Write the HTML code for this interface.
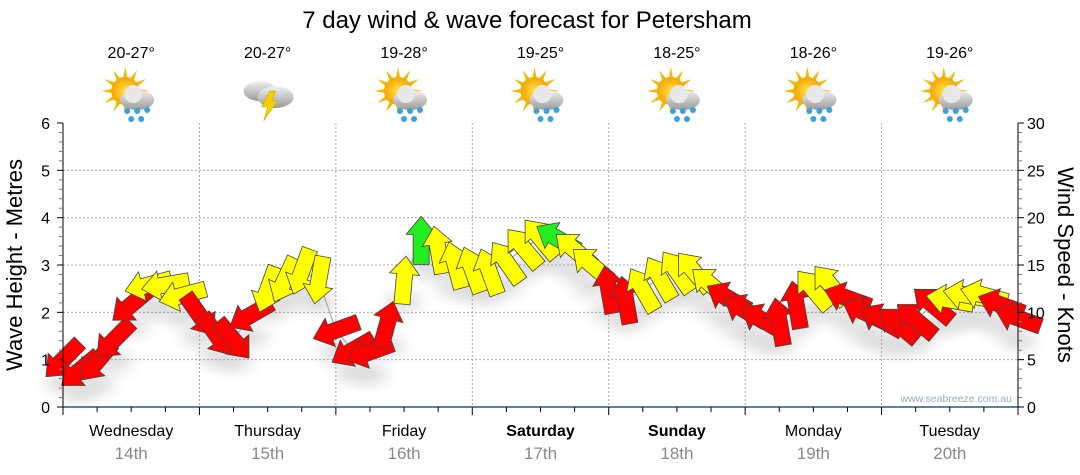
<!DOCTYPE html>
<html><head><meta charset="utf-8"><style>
html,body{margin:0;padding:0;background:#fff;}
svg{display:block;font-family:"Liberation Sans",sans-serif;}
</style></head><body>
<svg id="chart" width="1080" height="475" viewBox="0 0 1080 475" xmlns="http://www.w3.org/2000/svg">
<defs>
<filter id="sh" x="-50%" y="-50%" width="200%" height="200%"><feGaussianBlur stdDeviation="7"/></filter>
<radialGradient id="sun" cx="50%" cy="50%" r="50%"><stop offset="0" stop-color="#ffe24a"/><stop offset="1" stop-color="#f5a500"/></radialGradient>
<linearGradient id="cloud" x1="0" y1="0" x2="0" y2="1"><stop offset="0" stop-color="#f2f2f2"/><stop offset="1" stop-color="#9a9a9a"/></linearGradient>
</defs>
<text x="527" y="28" font-size="24" text-anchor="middle" fill="#000">7 day wind &amp; wave forecast for Petersham</text>
<g id="grid"></g>
<g id="icons"></g>
<g id="shadows" opacity="0.3"></g>
<polyline id="line" fill="none" stroke="#aaa" stroke-width="1.2"/>
<g id="arrows"></g>
<g id="axes"></g>
<text transform="translate(22,265) rotate(-90)" font-size="22" text-anchor="middle">Wave Height - Metres</text>
<text transform="translate(1058,265) rotate(90)" font-size="22" text-anchor="middle">Wind Speed - Knots</text>
<text x="1012" y="402" font-size="10.5" text-anchor="end" fill="#9aaabb">www.seabreeze.com.au</text>
</svg>
<script>
const days=["Wednesday","Thursday","Friday","Saturday","Sunday","Monday","Tuesday"];
const dates=["14th","15th","16th","17th","18th","19th","20th"];
const bold=[false,false,false,true,true,false,false];
const temps=["20-27°","20-27°","19-28°","19-25°","18-25°","18-26°","19-26°"];
const storm=[false,true,false,false,false,false,false];
const leftTicks=[0,1,2,3,4,5,6];
const rightTicks=[0,5,10,15,20,25,30];
const windKnots=[5.0,3.9,4.8,7.1,10.8,12.9,12.9,11.8,9.7,7.6,7.1,9.7,12.4,13.4,14.3,13.4,8.1,6.0,5.8,8.7,13.4,17.6,16.6,15.0,14.5,14.3,15.3,16.8,17.8,17.8,16.6,15.0,12.4,11.3,12.4,13.6,14.3,14.3,12.9,11.5,10.2,9.2,9.0,10.8,12.4,12.9,11.5,10.0,9.2,8.7,9.2,10.8,11.3,11.8,11.8,10.8,9.4];
const windDir=[135,140,130,135,140,165,170,165,55,55,50,150,110,115,110,100,160,150,160,-75,-85,-90,-100,-105,-110,-110,-125,-130,-130,-150,-140,-140,-100,-100,-120,-120,-125,-130,-140,-150,-150,-150,-100,-100,-130,-130,-160,-155,-150,-140,-140,-140,-170,-170,-165,-160,-160];
const windCol=["r","r","r","r","r","y","y","y","r","r","r","r","y","y","y","y","r","r","r","r","y","g","y","y","y","y","y","y","y","g","y","y","r","r","y","y","y","y","y","r","r","r","r","r","y","y","r","r","r","r","r","r","y","y","y","r","r"];
const NS="http://www.w3.org/2000/svg";
const X0=63,X1=1018,Y0=407,Y1=123;
const xDay=d=>X0+(X1-X0)*d/7;
const yM=m=>Y0-(Y0-Y1)*m/6;
const yK=k=>Y0-(Y0-Y1)*k/30;
const xStep=i=>xDay(i/8);
function mk(tag,attrs,parent){const e=document.createElementNS(NS,tag);for(const k in attrs)e.setAttribute(k,attrs[k]);parent.appendChild(e);return e;}
const grid=document.getElementById('grid'),axes=document.getElementById('axes'),icons=document.getElementById('icons');
for(let m=1;m<=5;m++){const l=mk('line',{x1:X0,x2:X1,y1:yM(m),y2:yM(m),stroke:'#aaa','stroke-dasharray':'2,2'},grid);

}
for(let d=1;d<7;d++){const l=mk('line',{x1:xDay(d),x2:xDay(d),y1:Y1,y2:Y0,stroke:'#aaa','stroke-dasharray':'2,2'},grid);

}
mk('line',{x1:X0,x2:X0,y1:Y1,y2:Y0,stroke:'#000'},axes);
mk('line',{x1:X1,x2:X1,y1:Y1,y2:Y0,stroke:'#000'},axes);
mk('line',{x1:X0,x2:X1,y1:Y0,y2:Y0,stroke:'#1f5a8a','stroke-width':1.5},axes);
for(let q=0;q<=28;q++){const x=X0+(X1-X0)*q/28;mk('line',{x1:x,x2:x,y1:Y0,y2:Y0+(q%4==0?8:5),stroke:'#000'},axes);}
for(let k=0;k<=30;k++){const y=yK(k);mk('line',{x1:X0-(k%5==0?6:4),x2:X0,y1:y,y2:y,stroke:k%5==0?'#000':'#777'},axes);mk('line',{x1:X1,x2:X1+(k%5==0?6:4),y1:y,y2:y,stroke:k%5==0?'#000':'#777'},axes);}
leftTicks.forEach(v=>{const t=mk('text',{x:50,y:yM(v)+6,'font-size':16,'text-anchor':'end'},axes);t.textContent=v;

});
rightTicks.forEach(v=>{const t=mk('text',{x:1027,y:yK(v)+6,'font-size':16},axes);t.textContent=v;

});
days.forEach((d,i)=>{const cx=xDay(i+0.5);
const t=mk('text',{x:cx,y:436,'font-size':16,'text-anchor':'middle','font-weight':bold[i]?'bold':'normal'},axes);t.textContent=d;


const t2=mk('text',{x:cx,y:459,'font-size':17,'text-anchor':'middle',fill:'#888'},axes);t2.textContent=dates[i];


const t3=mk('text',{x:cx,y:58,'font-size':16,'text-anchor':'middle'},icons);t3.textContent=temps[i];


const g=mk('g',{transform:`translate(${cx},97)`},icons);


if(!storm[i]){
for(let r=0;r<12;r++){const a=r*30*Math.PI/180;mk('polygon',{points:`${-6+Math.cos(a)*24},${-6+Math.sin(a)*24} ${-6+Math.cos(a+0.2)*12},${-6+Math.sin(a+0.2)*12} ${-6+Math.cos(a-0.2)*12},${-6+Math.sin(a-0.2)*12}`,fill:'#f5b800'},g);}
mk('circle',{cx:-6,cy:-6,r:14,fill:'url(#sun)'},g);
mk('ellipse',{cx:6,cy:3,rx:17,ry:10,fill:'url(#cloud)'},g);mk('circle',{cx:2,cy:-3,r:9,fill:'#e8e8e8'},g);
[[-4,14],[6,14],[16,13],[0,22],[10,22]].forEach(p=>mk('circle',{cx:p[0],cy:p[1],r:3,fill:'#3aa0e0'},g));
}else{
mk('ellipse',{cx:-8,cy:-6,rx:16,ry:10,fill:'url(#cloud)'},g);mk('ellipse',{cx:8,cy:0,rx:18,ry:11,fill:'url(#cloud)'},g);
mk('polygon',{points:'2,-6 -6,10 0,10 -4,24 10,4 4,4 8,-6',fill:'#f5d000',stroke:'#c90',"stroke-width":0.5},g);
}});
const cols={r:'#ff0000',y:'#ffff00',g:'#22ee22'};
const arrowPath='M-24,-8 L6,-8 L6,-15 L24,0 L6,15 L6,8 L-24,8 Z';
const sh=document.getElementById('shadows'),ar=document.getElementById('arrows');
let pts=[];
windKnots.forEach((k,i)=>{const x=xStep(i),y=yK(k);pts.push(x+','+y);
mk('ellipse',{cx:x,cy:y+22,rx:18,ry:9,fill:'#888',filter:'url(#sh)'},sh);
});
document.getElementById('line').setAttribute('points',pts.join(' '));
windKnots.forEach((k,i)=>{const x=xStep(i),y=yK(k);
const p=mk('path',{d:arrowPath,transform:`translate(${x},${y}) rotate(${windDir[i]})`,fill:cols[windCol[i]],stroke:'#444','stroke-width':0.8},ar);

});
</script>
</body></html>
